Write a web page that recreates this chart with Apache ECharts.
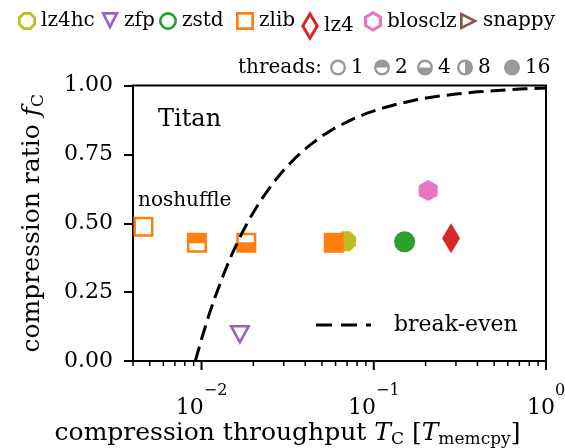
<!DOCTYPE html>
<html><head><meta charset="utf-8">
<script src="https://cdn.jsdelivr.net/npm/echarts@6/dist/echarts.min.js"></script>
<style>html,body{margin:0;padding:0;background:#fff}#c{width:565px;height:448px}</style>
</head><body><div id="c"></div>
<script>
// ---------------- data ----------------
const lz4hcT = [0.069],  lz4hcF = [0.435],  lz4hcThreads = [16];
const zfpT = [0.0167],   zfpF = [0.094],    zfpThreads = [1];
const zstdT = [0.151],   zstdF = [0.433],   zstdThreads = [16];
const zlibT = [0.0046, 0.0094, 0.0182, 0.0586];
const zlibF = [0.487, 0.429, 0.429, 0.429];
const zlibThreads = [1, 2, 4, 16];
const lz4T = [0.281],    lz4F = [0.446],    lz4Threads = [16];
const blosclzT = [0.207], blosclzF = [0.619], blosclzThreads = [16];
const snappyT = [], snappyF = [], snappyThreads = [];

const breakEvenT = [0.0092, 0.0100, 0.0110, 0.0120, 0.0135, 0.0150, 0.0170, 0.0190, 0.0220, 0.0260, 0.0300, 0.0350, 0.0420, 0.0500, 0.0600, 0.0750, 0.0900, 0.1100, 0.1400, 0.1800, 0.2300, 0.3000, 0.4000, 0.5500, 0.7500, 1.0000];
const breakEvenF = [0.000, 0.080, 0.164, 0.233, 0.318, 0.387, 0.459, 0.516, 0.582, 0.646, 0.693, 0.737, 0.781, 0.816, 0.847, 0.877, 0.898, 0.916, 0.934, 0.949, 0.960, 0.969, 0.977, 0.983, 0.988, 0.991];

const threadLabels = ['1', '2', '4', '8', '16'];
const xMajorTicks = [0.01, 0.1, 1];
const xMinorTicks = [0.004, 0.005, 0.006, 0.007, 0.008, 0.009,
                     0.02, 0.03, 0.04, 0.05, 0.06, 0.07, 0.08, 0.09,
                     0.2, 0.3, 0.4, 0.5, 0.6, 0.7, 0.8, 0.9];
const yMin = 0, yMax = 1, yStep = 0.25;
const xMin = 0.004, xMax = 1;

// ---------------- marker shapes ----------------
const FONT = 'DejaVu Serif';
const GRAY = '#808080';
const SHAPES = {
  square:  { out: 'M0 0H20V20H0Z', hole: 'M2.5 2.5V17.5H17.5V2.5Z', lhole: 'M3 3V17H17V3Z',
             top: 'M2.5 10.5V17.5H17.5V10.5Z', bottom: 'M2.5 2.5V9.5H17.5V2.5Z', right: 'M2.5 2.5V17.5H10V2.5Z' },
  circle:  { out: 'M10 0A10 10 0 1 1 10 20A10 10 0 1 1 10 0Z', hole: 'M10 2.5A7.5 7.5 0 1 0 10 17.5A7.5 7.5 0 1 0 10 2.5Z',
             lhole: 'M10 3A7 7 0 1 0 10 17A7 7 0 1 0 10 3Z',
             halfTop: 'M3 10A7 7 0 0 1 17 10Z', halfBottom: 'M17 10A7 7 0 0 1 3 10Z', halfRight: 'M10 3A7 7 0 0 1 10 17Z' },
  octagon: { out: 'M5.86 0H14.14L20 5.86V14.14L14.14 20H5.86L0 14.14V5.86Z', hole: 'M6.89 2.5L2.5 6.89V13.11L6.89 17.5H13.11L17.5 13.11V6.89L13.11 2.5Z',
             lhole: 'M7.1 3L3 7.1V12.9L7.1 17H12.9L17 12.9V7.1L12.9 3Z' },
  triDown: { out: 'M0 0H20L10 20Z', hole: 'M4.05 2.5L10 14.41L15.95 2.5Z', lhole: 'M4.85 3L10 13.3L15.15 3Z' },
  triRight:{ out: 'M0 0L20 10L0 20Z', hole: 'M2.5 4.05V15.95L14.41 10Z', lhole: 'M3 4.85V15.15L13.3 10Z' },
  diamond: { out: 'M9 0L18 15L9 30L0 15Z', hole: 'M9 4.86L2.92 15L9 25.14L15.08 15Z', lhole: 'M9 5.8L3.5 15L9 24.2L14.5 15Z' },
  hexagon: { out: 'M10 0L18.66 5V15L10 20L1.34 15V5Z', hole: 'M10 2.89L3.84 6.44V13.56L10 17.11L16.16 13.56V6.44Z',
             lhole: 'M10 3.47L4.35 6.73V13.27L10 16.53L15.65 13.27V6.73Z' }
};
function markerPath(shape, threads) {
  const s = SHAPES[shape];
  if (threads === 1) return 'path://' + s.out + s.hole;
  if (shape === 'square') {
    if (threads === 2) return 'path://' + s.out + s.top;
    if (threads === 4) return 'path://' + s.out + s.bottom;
    if (threads === 8) return 'path://' + s.out + s.right;
  }
  return 'path://' + s.out;
}
function threadIcon(th) {
  const c = SHAPES.circle;
  if (th === '1') return 'path://' + c.out + c.lhole;
  if (th === '2') return 'path://' + c.out + c.lhole + c.halfTop;
  if (th === '4') return 'path://' + c.out + c.lhole + c.halfBottom;
  if (th === '8') return 'path://' + c.out + c.lhole + c.halfRight;
  return 'path://' + c.out;
}

const SERIES = [
  { name: 'lz4hc',   color: '#bcbd22', shape: 'octagon',  size: [20, 20], T: lz4hcT,   F: lz4hcF,   th: lz4hcThreads },
  { name: 'zfp',     color: '#9467bd', shape: 'triDown',  size: [22, 20], T: zfpT,     F: zfpF,     th: zfpThreads },
  { name: 'zstd',    color: '#2ca02c', shape: 'circle',   size: [21, 21], T: zstdT,    F: zstdF,    th: zstdThreads },
  { name: 'zlib',    color: '#ff7f0e', shape: 'square',   size: [20, 20], T: zlibT,    F: zlibF,    th: zlibThreads },
  { name: 'lz4',     color: '#d62728', shape: 'diamond',  size: [18, 30], T: lz4T,     F: lz4F,     th: lz4Threads },
  { name: 'blosclz', color: '#e377c2', shape: 'hexagon',  size: [19, 21], T: blosclzT, F: blosclzF, th: blosclzThreads },
  { name: 'snappy',  color: '#8c564b', shape: 'triRight', size: [20, 20], T: snappyT,  F: snappyF,  th: snappyThreads }
];
const legendLeft = [18, 101, 159, 236, 301, 364, 460];
const threadLegendLeft = [330, 374, 417, 457, 504];

const series = SERIES.map(s => ({
  type: 'scatter', name: s.name, z: 2,
  itemStyle: { color: s.color, borderWidth: 0, opacity: 1 },
  data: s.T.map((t, i) => ({
    value: [t, s.F[i]],
    symbol: markerPath(s.shape, s.th[i]),
    symbolSize: s.size
  })),
  silent: true
}));
threadLabels.forEach(th => series.push({ type: 'scatter', name: th, data: [], itemStyle: { color: GRAY } }));
series.push({
  type: 'line', name: 'break-even', z: 5, silent: true,
  data: breakEvenT.map((t, i) => [t, breakEvenF[i]]),
  symbol: 'none', showSymbol: false,
  lineStyle: { color: '#000', width: 3, type: [15, 7] },
  itemStyle: { color: '#000' }
});
// x-axis ticks drawn at the log scale positions of the tick values
function tickSeries(values, len, width) {
  return {
    type: 'custom', silent: true, clip: false, z: 10,
    data: values.map(v => [v, yMin]),
    renderItem: function (params, api) {
      const p = api.coord([api.value(0), api.value(1)]);
      return { type: 'line', shape: { x1: p[0], y1: p[1], x2: p[0], y2: p[1] + len },
               style: { stroke: '#000', lineWidth: width } };
    }
  };
}
series.push(tickSeries(xMajorTicks, 9, 2));
series.push(tickSeries(xMinorTicks, 5, 1.5));

const legends = SERIES.map((s, i) => ({
  data: [{ name: s.name, icon: 'path://' + SHAPES[s.shape].out + SHAPES[s.shape].lhole, itemStyle: { color: s.color, borderWidth: 0 } }],
  left: legendLeft[i], top: 11, padding: 0, itemWidth: 18, itemHeight: 30,
  selectedMode: false,
  textStyle: { fontFamily: FONT, fontSize: 20, color: '#000' }
}));
threadLabels.forEach((th, i) => legends.push({
  data: [{ name: th, icon: threadIcon(th), itemStyle: { color: GRAY, borderWidth: 0 } }],
  left: threadLegendLeft[i], top: 57.5, padding: 0, itemWidth: 16, itemHeight: 16,
  selectedMode: false,
  textStyle: { fontFamily: FONT, fontSize: 20, color: '#000' }
}));
legends.push({
  data: [{ name: 'break-even', icon: 'path://M0 0H16V3H0Z M25 0H41V3H25Z M50 0H55V3H50Z', itemStyle: { color: '#000', borderWidth: 0 } }],
  left: 316, top: 314, padding: 0, itemWidth: 55, itemHeight: 14,
  selectedMode: false,
  textStyle: { fontFamily: FONT, fontSize: 22, color: '#000', padding: [0, 0, 0, 18] }
});

function sup(v) {
  const e = Math.round(Math.log10(v));
  return '{b|10}{s|' + (e < 0 ? '\u2212' + (-e) : String(e)) + '}';
}

const option = {
  animation: false,
  backgroundColor: '#fff',
  grid: { left: 133, right: 19, top: 85.5, bottom: 87, outerBoundsMode: 'none', containLabel: false,
          show: true, borderColor: '#000', borderWidth: 2, backgroundColor: 'transparent' },
  legend: legends,
  xAxis: {
    type: 'log', logBase: 10, min: xMin, max: xMax, position: 'bottom',
    axisLine: { show: true, lineStyle: { color: '#000', width: 2 } },
    axisTick: { show: false },
    axisLabel: {
      customValues: xMajorTicks, margin: 22, formatter: sup, color: '#000',
      rich: {
        b: { fontFamily: FONT, fontSize: 22, color: '#000' },
        s: { fontFamily: FONT, fontSize: 16, color: '#000', padding: [0, 0, 35, 0] }
      }
    },
    splitLine: { show: false }, minorTick: { show: false },
    name: '{n|compression throughput }{i|T}{s|C}{n| [}{i|T}{t|memcpy}{n|]}',
    nameLocation: 'middle', nameGap: 58, nameMoveOverlap: false,
    nameTextStyle: {
      padding: [0, 104, 0, 0],
      rich: {
        n: { fontFamily: FONT, fontSize: 25, color: '#000' },
        i: { fontFamily: FONT, fontSize: 25, fontStyle: 'italic', color: '#000' },
        s: { fontFamily: FONT, fontSize: 17, color: '#000', padding: [12, 0, 0, 0] },
        t: { fontFamily: FONT, fontSize: 17, color: '#000', padding: [12, 0, 0, 0] }
      }
    }
  },
  yAxis: {
    type: 'value', min: yMin, max: yMax, interval: yStep,
    axisLine: { show: true, lineStyle: { color: '#000', width: 2 } },
    axisTick: { show: true, length: 9, lineStyle: { color: '#000', width: 2 } },
    axisLabel: { margin: 20, formatter: v => v.toFixed(2), fontFamily: FONT, fontSize: 22, color: '#000', padding: [6, 0, 0, 0] },
    splitLine: { show: false },
    name: '{n|compression ratio }{i|f}{s|C}',
    nameLocation: 'middle', nameGap: 86, nameMoveOverlap: false,
    nameTextStyle: {
      rich: {
        n: { fontFamily: FONT, fontSize: 25, color: '#000' },
        i: { fontFamily: FONT, fontSize: 25, fontStyle: 'italic', color: '#000' },
        s: { fontFamily: FONT, fontSize: 17, color: '#000', padding: [12, 0, 0, 0] }
      }
    }
  },
  graphic: [
    { type: 'text', left: 158, top: 108, style: { text: 'Titan', font: '24px "DejaVu Serif"', fill: '#000' } },
    { type: 'text', left: 138, top: 191, style: { text: 'noshuffle', font: '20px "DejaVu Serif"', fill: '#000' } },
    { type: 'text', left: 238, top: 58, style: { text: 'threads:', font: '20px "DejaVu Serif"', fill: '#000' } }
  ],
  series: series
};
const chart = echarts.init(document.getElementById('c'), null, { renderer: 'canvas' });
chart.setOption(option);
</script>
</body></html>
